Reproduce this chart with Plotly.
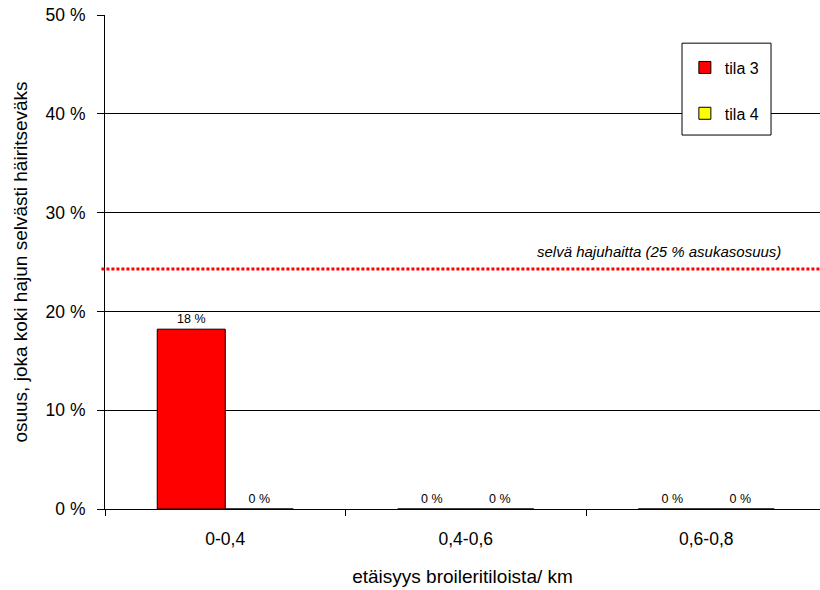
import plotly.graph_objects as go

categories = ["0-0,4", "0,4-0,6", "0,6-0,8"]
series_names = ["tila 3", "tila 4"]
tila3_values = [18.2, 0, 0]
tila4_values = [0, 0, 0]
series_colors = ["#FF0000", "#FFFF00"]
threshold_value = 24.3
threshold_label = "selvä hajuhaitta (25 % asukasosuus)"
y_ticks = [0, 10, 20, 30, 40, 50]
x_title = "etäisyys broileritiloista/ km"
y_title = "osuus, joka koki hajun selvästi häiritseväks"

FONT = "Liberation Sans, Arial, sans-serif"

fig = go.Figure()
for i, (name, vals) in enumerate(zip(series_names, [tila3_values, tila4_values])):
    fig.add_trace(go.Bar(
        x=categories, y=vals, name=name,
        marker=dict(color=series_colors[i], line=dict(color="#000000", width=1)),
        text=[f"{v:.0f} %" for v in vals],
        textposition="outside",
        textfont=dict(family=FONT, size=12.5, color="#000000"),
        cliponaxis=False,
        legendgroup=name,
    ))

fig.add_shape(type="line", xref="paper", x0=-0.005, x1=1, yref="y",
              y0=threshold_value, y1=threshold_value,
              line=dict(color="#FF0000", width=3, dash="3px,2px"), layer="above")

# legend frame
fig.add_shape(type="rect", xref="paper", yref="paper",
              x0=0.807, x1=0.9315, y0=0.757, y1=0.943,
              fillcolor="white", line=dict(color="#000000", width=1), layer="above")

fig.add_annotation(xref="paper", x=0.948, xanchor="right", yref="y", y=threshold_value,
                   yanchor="bottom", yshift=7, showarrow=False,
                   text=f"<i>{threshold_label}</i>",
                   font=dict(family=FONT, size=15, color="#000000"))

fig.update_layout(
    width=820, height=590,
    margin=dict(l=105, r=0, t=15, b=81),
    paper_bgcolor="white", plot_bgcolor="white",
    font=dict(family=FONT, color="#000000"),
    barmode="group", bargap=0.4345, bargroupgap=0,
    showlegend=True,
    legend=dict(
        x=0.811, y=0.928, xanchor="left", yanchor="top",
        bgcolor="rgba(0,0,0,0)", borderwidth=0,
        font=dict(family=FONT, size=16, color="#000000"),
        traceorder="grouped", tracegroupgap=22,
        itemwidth=30,
    ),
    xaxis=dict(
        type="category", range=[-0.5, -0.5 + 715 / 240.5],
        showline=True, linecolor="#000000", linewidth=1,
        ticks="outside", tickson="boundaries", ticklen=6, tickcolor="#000000",
        showgrid=False,
        tickfont=dict(family=FONT, size=17.5, color="#000000"),
        ticklabelstandoff=14,
        title=dict(text=x_title, font=dict(family=FONT, size=19, color="#000000"), standoff=21),
    ),
    yaxis=dict(
        range=[0, 50], tickvals=y_ticks, ticktext=[f"{v} %" for v in y_ticks],
        showline=True, linecolor="#000000", linewidth=1,
        ticks="outside", ticklen=7, tickcolor="#000000",
        showgrid=True, gridcolor="#000000", gridwidth=1,
        zeroline=False,
        tickfont=dict(family=FONT, size=17.5, color="#000000"),
        ticklabelstandoff=8,
        title=dict(text=y_title, font=dict(family=FONT, size=19, color="#000000"), standoff=12),
    ),
)

fig.write_html("out.html")
